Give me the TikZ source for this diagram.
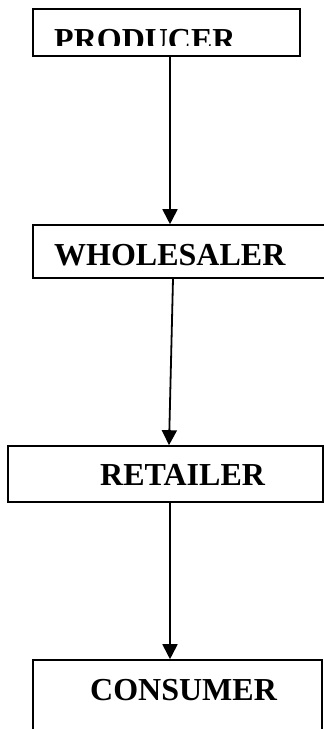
\documentclass[tikz,border=0pt]{standalone}
\usepackage{fontspec}
\setmainfont{Liberation Serif}
\usetikzlibrary{arrows.meta}
\begin{document}
\begin{tikzpicture}[x=1pt,y=-1pt,
  box/.style={draw=black,line width=1.6pt,rectangle,inner sep=0pt},
  label/.style={inner sep=0pt,anchor=base west,font=\fontsize{32}{38}\selectfont\bfseries},
  arr/.style={line width=1.8pt,-{Triangle[length=15pt,width=15pt]}}]
\useasboundingbox (0,0) rectangle (324,729);
\clip (0,0) rectangle (324,729);
% boxes of the distribution chain
\node[box,minimum width=267pt,minimum height=47pt] (b1) at (166.5,32.5) {};
\node[box,minimum width=312pt,minimum height=53pt] (b2) at (189,251.5) {};
\node[box,minimum width=315pt,minimum height=56pt] (b3) at (165.5,474) {};
\node[box,minimum width=289pt,minimum height=85pt] (b4) at (177.5,702.5) {};
% labels
\begin{scope}
  \clip (33,0) rectangle (300,45);
  \node[label] (t1) at (54,50) {PRODUCER};
\end{scope}
\node[label] (t2) at (54,265) {WHOLESALER};
\node[label] (t3) at (100,485) {RETAILER};
\node[label] (t4) at (90,700) {CONSUMER};
% connectors
\coordinate (c1) at (170,0);
\coordinate (c2a) at (173,0);
\coordinate (c2b) at (169,0);
\draw[arr] (c1 |- b1.south) -- (c1 |- b2.north);
\draw[arr] (c2a |- b2.south) -- (c2b |- b3.north);
\draw[arr] (c1 |- b3.south) -- (c1 |- b4.north);
\end{tikzpicture}
\end{document}
